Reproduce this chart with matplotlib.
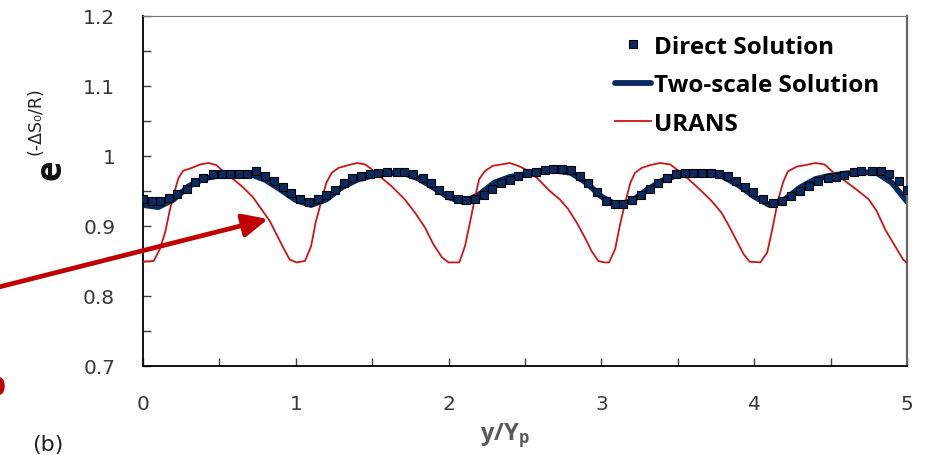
import numpy as np
import matplotlib
matplotlib.use("Agg")
import matplotlib.pyplot as plt
from matplotlib.ticker import MultipleLocator
from matplotlib.patches import FancyArrowPatch, Ellipse

plt.rcParams['font.family'] = ['Open Sans', 'DejaVu Sans']
plt.rcParams['mathtext.fontset'] = 'custom'
plt.rcParams['mathtext.rm'] = 'Open Sans'
plt.rcParams['mathtext.bf'] = 'Open Sans:bold'

# Direct Solution (squares)
direct_x = [0.0, 0.057, 0.11, 0.17, 0.225, 0.286, 0.34, 0.394, 0.456, 0.515, 0.57, 0.625, 0.68, 0.739, 0.80, 0.86, 0.914, 0.97,
            1.03, 1.085, 1.144, 1.2, 1.257, 1.316, 1.37, 1.427, 1.486, 1.54, 1.6, 1.66, 1.71, 1.77, 1.83, 1.886, 1.94, 2.0,
            2.06, 2.115, 2.17, 2.23, 2.285, 2.34, 2.4, 2.455, 2.51, 2.57, 2.63, 2.685, 2.74, 2.8, 2.86, 2.914, 2.97,
            3.03, 3.086, 3.14, 3.2, 3.26, 3.315, 3.37, 3.43, 3.49, 3.55, 3.6, 3.66, 3.72, 3.77, 3.826, 3.88, 3.94, 3.995,
            4.06, 4.12, 4.18, 4.24, 4.3, 4.36, 4.42, 4.48, 4.535, 4.59, 4.65, 4.7, 4.77, 4.83, 4.885, 4.95, 5.0]
direct_y = [0.939, 0.936, 0.936, 0.940, 0.946, 0.953, 0.963, 0.969, 0.974, 0.975, 0.975, 0.975, 0.975, 0.978, 0.971, 0.964, 0.956, 0.947,
            0.939, 0.934, 0.938, 0.944, 0.951, 0.962, 0.968, 0.972, 0.974, 0.976, 0.977, 0.977, 0.977, 0.975, 0.969, 0.961, 0.951, 0.944,
            0.938, 0.937, 0.938, 0.944, 0.953, 0.961, 0.966, 0.971, 0.976, 0.977, 0.980, 0.982, 0.982, 0.980, 0.971, 0.961, 0.948,
            0.936, 0.932, 0.932, 0.937, 0.944, 0.953, 0.961, 0.968, 0.975, 0.976, 0.976, 0.976, 0.976, 0.975, 0.972, 0.964, 0.956, 0.948,
            0.938, 0.933, 0.936, 0.943, 0.950, 0.957, 0.965, 0.968, 0.970, 0.973, 0.977, 0.979, 0.979, 0.979, 0.974, 0.964, 0.951]

# Two-scale Solution (thick line)
two_x = [0.0, 0.1, 0.2, 0.3, 0.4, 0.5, 0.6, 0.7, 0.8, 0.9, 1.0, 1.1, 1.2, 1.3, 1.4, 1.5, 1.6, 1.7, 1.8, 1.9, 2.0,
         2.1, 2.2, 2.3, 2.4, 2.5, 2.6, 2.7, 2.8, 2.9, 3.0, 3.1, 3.2, 3.3, 3.4, 3.5, 3.6, 3.7, 3.8, 3.9, 4.0,
         4.1, 4.2, 4.3, 4.4, 4.5, 4.6, 4.7, 4.8, 4.9, 5.0]
two_y = [0.930, 0.927, 0.938, 0.957, 0.968, 0.972, 0.974, 0.974, 0.966, 0.952, 0.937, 0.930, 0.938, 0.955, 0.966, 0.972,
         0.975, 0.976, 0.968, 0.955, 0.941, 0.934, 0.945, 0.962, 0.970, 0.974, 0.977, 0.979, 0.976, 0.962, 0.942, 0.930,
         0.936, 0.952, 0.965, 0.973, 0.977, 0.977, 0.970, 0.958, 0.942, 0.930, 0.938, 0.955, 0.967, 0.972, 0.975, 0.977,
         0.976, 0.962, 0.935]

# URANS
urans_x = [0.0, 0.07, 0.11, 0.145, 0.177, 0.21, 0.233, 0.263, 0.32, 0.375, 0.43, 0.48, 0.536, 0.59, 0.656, 0.72, 0.775,
           0.83, 0.874, 0.918, 0.96, 1.005, 1.06, 1.1, 1.13, 1.17, 1.2, 1.235, 1.28, 1.345, 1.4, 1.453, 1.497, 1.56, 1.626,
           1.713, 1.78, 1.845, 1.9, 1.957, 2.0, 2.07, 2.107, 2.14, 2.175, 2.2, 2.24, 2.29, 2.347, 2.4, 2.455, 2.52, 2.586,
           2.662, 2.728, 2.783, 2.838, 2.893, 2.936, 2.98, 3.02, 3.05, 3.09, 3.12, 3.155, 3.19, 3.22, 3.264, 3.32, 3.383,
           3.45, 3.504, 3.57, 3.645, 3.72, 3.786, 3.83, 3.885, 3.93, 3.97, 4.04, 4.085, 4.12, 4.155, 4.19, 4.22, 4.28,
           4.335, 4.4, 4.46, 4.51, 4.59, 4.67, 4.75, 4.8, 4.86, 4.92, 4.975, 5.0]
urans_y = [0.849, 0.850, 0.867, 0.891, 0.924, 0.952, 0.969, 0.979, 0.983, 0.988, 0.990, 0.987, 0.976, 0.967, 0.955, 0.941,
           0.924, 0.907, 0.888, 0.869, 0.852, 0.848, 0.850, 0.871, 0.905, 0.938, 0.962, 0.976, 0.983, 0.987, 0.990, 0.988,
           0.981, 0.969, 0.957, 0.938, 0.919, 0.898, 0.874, 0.855, 0.848, 0.848, 0.871, 0.905, 0.943, 0.967, 0.979, 0.986,
           0.988, 0.990, 0.986, 0.979, 0.967, 0.950, 0.938, 0.924, 0.905, 0.883, 0.864, 0.850, 0.848, 0.848, 0.867, 0.900,
           0.933, 0.962, 0.976, 0.983, 0.987, 0.990, 0.988, 0.979, 0.967, 0.952, 0.936, 0.919, 0.902, 0.879, 0.860, 0.849,
           0.848, 0.862, 0.897, 0.936, 0.963, 0.978, 0.985, 0.987, 0.990, 0.988, 0.978, 0.965, 0.952, 0.938, 0.922, 0.894,
           0.872, 0.852, 0.847]

W, H = 930, 456
fig = plt.figure(figsize=(9.3, 4.56), dpi=100)
ax = fig.add_axes([143 / W, 1 - 367 / H, 764 / W, 350 / H])

navy = '#0b2a60'
ax.plot(two_x, two_y, color=navy, lw=4.2, solid_capstyle='round', label='Two-scale Solution', zorder=2)
ax.plot(urans_x, urans_y, color='#cc1515', lw=1.3, label='URANS', zorder=3)
ax.plot(direct_x, direct_y, 's', ms=5.8, mfc=navy, mec='black', mew=0.8, ls='none', label='Direct Solution', zorder=4)

ax.set_xlim(0, 5)
ax.set_ylim(0.7, 1.2)
ax.xaxis.set_major_locator(MultipleLocator(1))
ax.xaxis.set_minor_locator(MultipleLocator(0.5))
ax.yaxis.set_major_locator(MultipleLocator(0.1))
ax.yaxis.set_minor_locator(MultipleLocator(0.05))
ax.set_yticks([0.7, 0.8, 0.9, 1.0, 1.1, 1.2])
ax.set_yticklabels(['0.7', '0.8', '0.9', '1', '1.1', '1.2'])
ax.tick_params(which='both', direction='in', length=6, width=1, color='#404040')
ax.tick_params(axis='x', pad=20, labelsize=14.5, labelcolor='#383838')
ax.tick_params(axis='y', pad=20, labelsize=14.5, labelcolor='#383838')
for lab in ax.get_xticklabels() + ax.get_yticklabels():
    lab.set_fontfamily('DejaVu Sans')

for side in ['left', 'bottom']:
    ax.spines[side].set_color('black')
    ax.spines[side].set_linewidth(1.3)
ax.spines['right'].set_color('#666666')
ax.spines['right'].set_linewidth(1.6)
ax.spines['top'].set_color('#777777')
ax.spines['top'].set_linewidth(0.8)

h, l = ax.get_legend_handles_labels()
order = [2, 0, 1]
leg = ax.legend([h[i] for i in order], [l[i] for i in order], loc='upper left', frameon=False,
                prop={'family': 'Open Sans', 'weight': 'bold', 'size': 17.5}, handlelength=1.5, handletextpad=0.1,
                labelspacing=0.6, borderpad=0.2, bbox_to_anchor=((598 - 143) / 764, 0.995))

ax.set_xlabel(r'$\mathbf{y/Y_p}$', fontsize=17, color='#595959')
ax.xaxis.set_label_coords((505 - 143) / 764, -(440 - 367) / 350)
ax.xaxis.label.set_va('baseline')

# y label: bold e with a superscript
fig.text(51 / W, 1 - 170 / H, 'e', rotation=90, ha='center', va='center', fontsize=25, fontweight='bold', color='#111111')
fig.text(35 / W, 1 - 121 / H, '(-ΔS₀/R)', rotation=90, ha='center', va='center', fontsize=12.5,
         family='DejaVu Sans', color='#222222')

# annotation arrow coming from the slide on the left
fig.add_artist(FancyArrowPatch((-5 / W, 1 - 289 / H), (268 / W, 1 - 220 / H), transform=fig.transFigure,
                               arrowstyle='-|>,head_length=0.75,head_width=0.35', mutation_scale=20,
                               shrinkA=0, shrinkB=0, color='#c00000', lw=3.4))
# piece of a red mark cut off at the left edge
fig.add_artist(Ellipse((0, 1 - 387 / H), 8 / W, 16 / H, transform=fig.transFigure, color='#c00000'))
fig.text(32 / W, 1 - 451 / H, '(b)', fontsize=16, color='#222222', family='DejaVu Sans')

fig.savefig('out.png', dpi=100)
